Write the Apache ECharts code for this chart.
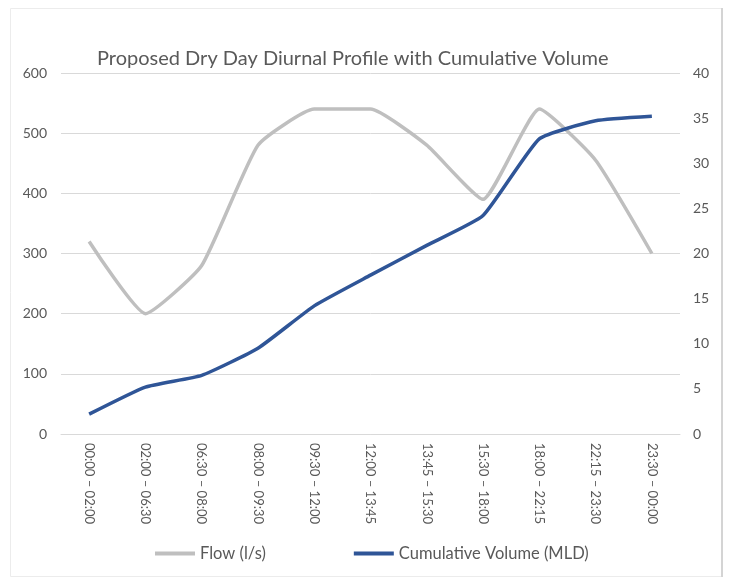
<!DOCTYPE html>
<html>
<head>
<meta charset="utf-8">
<script src="https://cdn.jsdelivr.net/npm/echarts@6/dist/echarts.min.js"></script>
<style>
  html, body { margin: 0; padding: 0; background: #fff; }
  #chart { width: 729px; height: 577px; }
</style>
</head>
<body>
<div id="chart"></div>
<script>
// Time bands of the dry-day profile
const periods = [
  '00:00 \u2013 02:00', '02:00 \u2013 06:30', '06:30 \u2013 08:00', '08:00 \u2013 09:30',
  '09:30 \u2013 12:00', '12:00 \u2013 13:45', '13:45 \u2013 15:30', '15:30 \u2013 18:00',
  '18:00 \u2013 22:15', '22:15 \u2013 23:30', '23:30 \u2013 00:00'
];
// Flow per band (l/s), left axis
const flow = [320, 200, 280, 480, 540, 540, 480, 390, 540, 455, 300];
// Running total volume (MLD), right axis
const cumulativeVolume = [2.2, 5.2, 6.5, 9.5, 14.2, 17.6, 20.9, 24.2, 32.7, 34.7, 35.2];

const textColor = '#595959';
const font = "Lato, 'Liberation Sans', sans-serif";

const chart = echarts.init(document.getElementById('chart'));
chart.setOption({
  animation: false,
  backgroundColor: '#fff',
  textStyle: { fontFamily: font },
  title: {
    text: 'Proposed Dry Day Diurnal Profile with Cumulative Volume',
    left: 92,
    top: 44,
    textStyle: { fontFamily: font, fontSize: 20, fontWeight: 'normal', color: textColor }
  },
  legend: {
    top: 545,
    left: 155,
    padding: 0,
    itemWidth: 40,
    itemHeight: 4,
    itemGap: 88,
    textStyle: { fontFamily: font, fontSize: 16.5, color: textColor },
    data: [
      { name: 'Flow (l/s)', icon: 'rect' },
      { name: 'Cumulative Volume (MLD)', icon: 'rect' }
    ]
  },
  grid: { left: 61, right: 49, top: 73, bottom: 143 },
  xAxis: {
    type: 'category',
    data: periods,
    boundaryGap: true,
    axisLine: { show: true, lineStyle: { color: '#d9d9d9', width: 1 } },
    axisTick: { show: false },
    axisLabel: {
      rotate: -90,
      color: textColor,
      fontSize: 13,
      margin: 9,
      fontFamily: font
    }
  },
  yAxis: [
    {
      type: 'value',
      min: 0, max: 600, interval: 100,
      axisLine: { show: false },
      axisTick: { show: false },
      axisLabel: { color: textColor, fontSize: 14, margin: 14, fontFamily: font },
      splitLine: { lineStyle: { color: '#d9d9d9', width: 1 } }
    },
    {
      type: 'value',
      min: 0, max: 40, interval: 5,
      axisLine: { show: false },
      axisTick: { show: false },
      axisLabel: { color: textColor, fontSize: 14, margin: 13, fontFamily: font },
      splitLine: { show: false }
    }
  ],
  series: [
    {
      name: 'Flow (l/s)',
      type: 'line',
      yAxisIndex: 0,
      data: flow,
      smooth: 0.15,
      symbol: 'none',
      lineStyle: { color: '#bfbfbf', width: 3.5 },
      itemStyle: { color: '#bfbfbf' }
    },
    {
      name: 'Cumulative Volume (MLD)',
      type: 'line',
      yAxisIndex: 1,
      data: cumulativeVolume,
      smooth: 0.15,
      symbol: 'none',
      lineStyle: { color: '#2f5597', width: 3.5 },
      itemStyle: { color: '#2f5597' }
    }
  ],
  graphic: [
    {
      type: 'rect',
      shape: { x: 10.5, y: 8.5, width: 711, height: 568 },
      style: { fill: 'none', stroke: '#ececec', lineWidth: 1 },
      silent: true
    },
    {
      type: 'line',
      shape: { x1: 722, y1: 8, x2: 722, y2: 577 },
      style: { stroke: '#d4d4d4', lineWidth: 2 },
      silent: true
    }
  ]
});
</script>
</body>
</html>
